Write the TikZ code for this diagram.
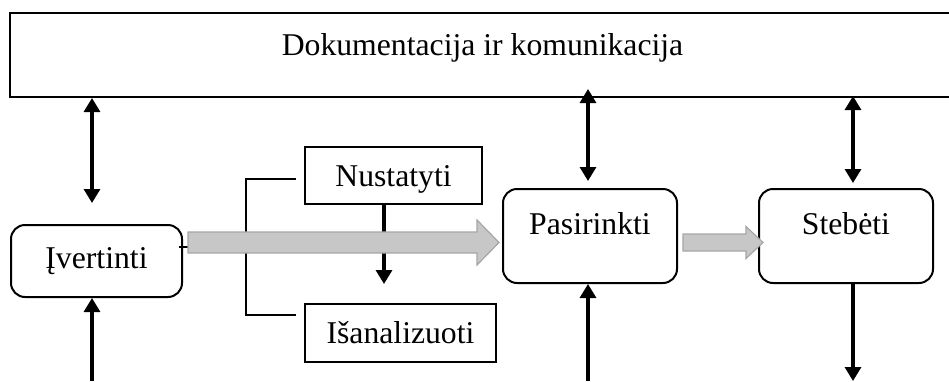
\documentclass[tikz,border=0pt]{standalone}
\usepackage{fontspec}
\setmainfont{Liberation Serif}
\usetikzlibrary{arrows.meta,calc}

\tikzstyle{box} = [draw,line width=1pt,inner sep=0pt,text height=11pt,font=\fontsize{15.85pt}{19pt}\selectfont]
\tikzstyle{phase} = [box,rounded corners=7pt]
\tikzstyle{link} = [line width=1.6pt]
\tikzstyle{brace} = [line width=0.8pt]
\tikzstyle{fat} = [fill=black!22,draw=black!35,line width=0.6pt]

\newcommand{\fatarrow}[5]{\draw[fat] ($(#1)+(0,-#3)$) -- ($(#2)+(-#5,-#3)$) -- ($(#2)+(-#5,-#4)$) -- (#2) -- ($(#2)+(-#5,#4)$) -- ($(#2)+(-#5,#3)$) -- ($(#1)+(0,#3)$) -- cycle;}

\begin{document}
\begin{tikzpicture}[x=0.5pt,y=-0.5pt,>={Triangle[width=8pt,length=7pt]}]
	\useasboundingbox (0,0) rectangle (949,381);
	\clip (0,0) rectangle (949,381);
	\node[box,minimum width=472.5pt,minimum height=42pt,text depth=11pt] (doc) at (482.5,55) {Dokumentacija ir komunikacija};
	\node[phase,minimum width=85.5pt,minimum height=36pt,text depth=4pt] (ivert) at (96.5,261) {Įvertinti};
	\node[phase,minimum width=87pt,minimum height=47pt,text depth=13pt] (pasir) at (590,236) {Pasirinkti};
	\node[phase,minimum width=87pt,minimum height=47pt,text depth=13pt] (steb) at (846,236) {Stebėti};
	\node[box,minimum width=88.5pt,minimum height=28.5pt,text depth=0pt] (nust) at (393.5,175.5) {Nustatyti};
	\node[box,minimum width=95.5pt,minimum height=29pt,text depth=1pt] (isan) at (400.5,333) {Išanalizuoti};
	\coordinate (inA) at (92,381);
	\coordinate (inB) at (588,381);
	\coordinate (outC) at (853,381);
	\draw[link,<->] (doc.south -| inA) -- ([yshift=10.5pt]inA |- ivert.north);
	\draw[link,<->] ([yshift=4.5pt]doc.south -| inB) -- ([yshift=3.5pt]inB |- pasir.north);
	\draw[link,<->] ([yshift=1pt]doc.south -| outC) -- ([yshift=2.5pt]outC |- steb.north);
	\draw[link,->] (inA) -- (inA |- ivert.south);
	\draw[link,->] (inB) -- (inB |- pasir.south);
	\draw[link,->] (outC |- steb.south) -- (outC);
	\draw[brace] ([xshift=-4pt,yshift=-1.75pt]nust.west) -- ++(-50,0) |- ([xshift=-4pt,yshift=9pt]isan.west);
	\draw[brace] ([xshift=-2pt,yshift=7pt]ivert.east) -- ++(9,0);
	\draw[link,->] ([xshift=-4.75pt]nust.south) -- ++(0,79);
	\coordinate (g1) at ([xshift=2.5pt,yshift=9.25pt]ivert.east);
	\coordinate (g1e) at ([xshift=-1.5pt]g1 -| pasir.west);
	\coordinate (g2) at ([xshift=2.5pt]g1 -| pasir.east);
	\coordinate (g2e) at ([xshift=2.5pt]g1 -| steb.west);
	\fatarrow{g1}{g1e}{10.5}{22.5}{22}
	\fatarrow{g2}{g2e}{8.5}{16}{17}
\end{tikzpicture}
\end{document}
